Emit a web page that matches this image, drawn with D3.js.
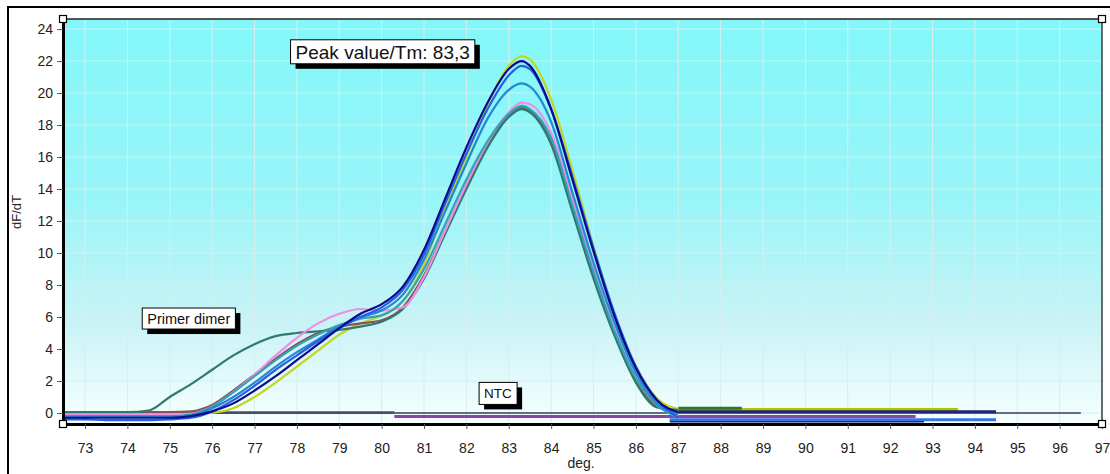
<!DOCTYPE html>
<html>
<head>
<meta charset="utf-8">
<script src="https://cdn.jsdelivr.net/npm/d3@7"></script>
<style>
  body { margin: 0; background: #fff; }
  svg { display: block; font-family: 'Liberation Sans', Arial, sans-serif; }
</style>
</head>
<body>
<svg width="1110" height="474"></svg>
<script>
// temperatures shared by the melt peaks
const temps = [72.5, 73, 73.5, 74, 74.5, 75, 75.5, 76, 76.5, 77, 77.5, 78, 78.5, 79, 79.5, 80, 80.5, 81, 81.5, 82, 82.5, 83, 83.3, 83.5, 84, 84.5, 85, 85.5, 86, 86.5, 87]

const yellow = [-0.05, -0.05, -0.05, -0.05, -0.05, -0.05, -0.05, 0.0, 0.3, 1.0, 1.9, 2.9, 3.9, 4.9, 5.6, 6.1, 7.0, 9.3, 12.8, 16.0, 19.3, 21.7, 22.3, 22.1, 19.6, 15.2, 10.4, 6.1, 2.9, 0.9, 0.25]
const brown = [0.05, 0.05, 0.05, 0.05, 0.05, 0.05, 0.1, 0.5, 1.4, 2.4, 3.4, 4.3, 5.0, 5.4, 5.6, 5.8, 6.6, 8.6, 11.4, 14.2, 16.8, 18.6, 19.1, 18.9, 16.9, 12.8, 8.6, 4.9, 2.0, 0.4, 0.0]
const darkTeal = [0.05, 0.05, 0.05, 0.05, 0.15, 1.0, 1.8, 2.7, 3.6, 4.3, 4.8, 5.0, 5.1, 5.2, 5.4, 5.7, 6.5, 8.4, 11.2, 14.0, 16.6, 18.5, 19.0, 18.8, 16.8, 12.6, 8.4, 4.8, 1.9, 0.35, 0.2]
const pink = [-0.1, -0.1, -0.1, -0.1, -0.1, -0.1, -0.05, 0.4, 1.3, 2.4, 3.6, 4.7, 5.6, 6.2, 6.5, 6.4, 6.6, 8.5, 11.4, 14.3, 16.9, 18.8, 19.4, 19.3, 17.5, 13.4, 9.0, 5.2, 2.2, 0.5, -0.2]
const teal = [-0.2, -0.2, -0.2, -0.2, -0.2, -0.2, -0.1, 0.4, 1.3, 2.3, 3.3, 4.2, 4.9, 5.5, 5.9, 6.1, 7.0, 9.0, 11.8, 14.6, 17.0, 18.7, 19.2, 19.0, 17.2, 13.0, 8.8, 5.1, 2.2, 0.5, -0.3]
const cerulean = [-0.25, -0.25, -0.25, -0.25, -0.25, -0.25, -0.15, 0.3, 1.0, 1.9, 2.9, 3.8, 4.6, 5.4, 6.0, 6.4, 7.4, 9.6, 12.6, 15.6, 18.4, 20.2, 20.6, 20.4, 18.2, 13.8, 9.4, 5.6, 2.5, 0.6, -0.1]
const royal = [-0.4, -0.4, -0.45, -0.45, -0.45, -0.4, -0.3, 0.1, 0.8, 1.7, 2.7, 3.6, 4.5, 5.3, 6.0, 6.6, 7.7, 9.9, 13.1, 16.2, 19.0, 21.1, 21.7, 21.5, 19.0, 14.8, 10.3, 6.2, 2.9, 0.8, -0.3]
const navy = [-0.3, -0.3, -0.3, -0.3, -0.3, -0.3, -0.2, 0.1, 0.6, 1.4, 2.3, 3.3, 4.3, 5.3, 6.2, 6.8, 7.9, 10.2, 13.4, 16.6, 19.4, 21.5, 22.0, 21.7, 19.0, 14.6, 10.1, 6.0, 2.8, 0.8, 0.05]

// flat traces (NTC and baselines after the peak)
const tailNames = ['ntcGray', 'ntcSlate', 'purple', 'navyLow', 'blueLow', 'yellowTail', 'greenTail', 'navyTail']
const tailFrom = [72.5, 72.5, 80.3, 86.8, 86.8, 87, 87, 87]
const tailTo = [80.3, 96.5, 92.6, 92.8, 94.5, 93.6, 88.5, 94.5]
const tailLevel = [0.03, 0.0, -0.22, -0.5, -0.42, 0.22, 0.3, 0.08]

const xTicks = d3.range(73, 98)
const yTicks = d3.range(0, 25, 2)

const peakNames = ['yellow', 'brown', 'darkTeal', 'pink', 'teal', 'cerulean', 'royal', 'navy']
const peakValues = [yellow, brown, darkTeal, pink, teal, cerulean, royal, navy]

const color = {
  yellow: '#c4d61c',
  brown: '#8c5252',
  darkTeal: '#2f7a70',
  pink: '#ee8ee4',
  teal: '#34a2b8',
  cerulean: '#1f8ad2',
  royal: '#2a5ce6',
  navy: '#0a0a8c',
  ntcGray: '#7a7a7a',
  ntcSlate: '#3c3c66',
  purple: '#8a44a8',
  navyLow: '#101080',
  blueLow: '#3a74e0',
  yellowTail: '#a8c800',
  greenTail: '#2a7a2a',
  navyTail: '#23237a'
}

const svg = d3.select('svg')
const plot = { left: 63, right: 1102, top: 19, bottom: 424 }

const x = d3.scaleLinear()
  .domain([72.48, 97])
  .range([plot.left, plot.right])

const y = d3.scaleLinear()
  .domain([-0.69, 24.63])
  .range([plot.bottom, plot.top])

// outer frame
svg.append('path')
  .attr('d', 'M8,474 V7 H1110')
  .attr('fill', 'none')
  .attr('stroke', '#000')
  .attr('stroke-width', 2)

const defs = svg.append('defs')
const grad = defs.append('linearGradient')
  .attr('id', 'bg')
  .attr('x1', 0).attr('y1', 0).attr('x2', 0).attr('y2', 1)
grad.append('stop').attr('offset', '0%').attr('stop-color', '#82f7f9')
grad.append('stop').attr('offset', '45%').attr('stop-color', '#99f5f8')
grad.append('stop').attr('offset', '75%').attr('stop-color', '#c9f3f6')
grad.append('stop').attr('offset', '100%').attr('stop-color', '#f6ffff')

defs.append('clipPath')
  .attr('id', 'clip')
  .append('rect')
  .attr('x', plot.left)
  .attr('y', plot.top)
  .attr('width', plot.right - plot.left)
  .attr('height', plot.bottom - plot.top)

svg.append('rect')
  .attr('x', plot.left)
  .attr('y', plot.top)
  .attr('width', plot.right - plot.left)
  .attr('height', plot.bottom - plot.top)
  .attr('fill', 'url(#bg)')

// grid
svg.append('g')
  .selectAll('line')
  .data(xTicks)
  .enter()
  .append('line')
  .attr('x1', function (d) { return x(d) })
  .attr('x2', function (d) { return x(d) })
  .attr('y1', plot.top)
  .attr('y2', plot.bottom)
  .attr('stroke', '#d6eeee')
  .attr('stroke-width', 1)

svg.append('g')
  .selectAll('line')
  .data(yTicks)
  .enter()
  .append('line')
  .attr('x1', plot.left)
  .attr('x2', plot.right)
  .attr('y1', function (d) { return y(d) })
  .attr('y2', function (d) { return y(d) })
  .attr('stroke', '#d6eeee')
  .attr('stroke-width', 1)

const lines = svg.append('g').attr('clip-path', 'url(#clip)')

lines.selectAll('.tail')
  .data(tailNames)
  .enter()
  .append('line')
  .attr('class', 'tail')
  .attr('x1', function (d, i) { return x(tailFrom[i]) })
  .attr('x2', function (d, i) { return x(tailTo[i]) })
  .attr('y1', function (d, i) { return y(tailLevel[i]) })
  .attr('y2', function (d, i) { return y(tailLevel[i]) })
  .attr('stroke', function (d) { return color[d] })
  .attr('stroke-width', function (d) { return d === 'ntcSlate' ? 1.5 : 3 })

const line = d3.line()
  .x(function (d) { return x(d.t) })
  .y(function (d) { return y(d.v) })
  .curve(d3.curveMonotoneX)

lines.selectAll('.peak')
  .data(peakNames)
  .enter()
  .append('path')
  .attr('class', 'peak')
  .attr('d', function (d, i) {
    return line(temps.map(function (t, j) { return { t: t, v: peakValues[i][j] } }))
  })
  .attr('fill', 'none')
  .attr('stroke', function (d) { return color[d] })
  .attr('stroke-width', 2.2)
  .attr('stroke-linejoin', 'round')

// plot border: thin top/right, thick axes
svg.append('path')
  .attr('d', 'M' + plot.left + ',' + plot.top + ' H' + plot.right + ' V' + plot.bottom)
  .attr('fill', 'none')
  .attr('stroke', '#222')
  .attr('stroke-width', 1.3)

const xAxis = d3.axisBottom(x).tickValues(xTicks).tickSize(5).tickSizeOuter(0).tickPadding(14)
const yAxis = d3.axisLeft(y).tickValues(yTicks).tickSize(6).tickSizeOuter(0).tickPadding(4)

const gx = svg.append('g')
  .attr('transform', 'translate(0,' + plot.bottom + ')')
  .call(xAxis)
gx.select('.domain').attr('stroke', '#000').attr('stroke-width', 3)

const gy = svg.append('g')
  .attr('transform', 'translate(' + plot.left + ',0)')
  .call(yAxis)
gy.select('.domain').attr('stroke', '#000').attr('stroke-width', 3)

svg.selectAll('.tick text')
  .attr('font-size', 14)
  .attr('font-family', "'Liberation Sans', Arial, sans-serif")
  .attr('fill', '#222')
svg.selectAll('.tick line').attr('stroke', '#555')

// corner handles
const corners = [[plot.left, plot.top], [plot.right, plot.top], [plot.left, plot.bottom], [plot.right, plot.bottom]]
svg.selectAll('.handle')
  .data(corners)
  .enter()
  .append('rect')
  .attr('class', 'handle')
  .attr('x', function (d) { return d[0] - 3.5 })
  .attr('y', function (d) { return d[1] - 3.5 })
  .attr('width', 7)
  .attr('height', 7)
  .attr('fill', '#fff')
  .attr('stroke', '#000')
  .attr('stroke-width', 1.2)

// axis titles
svg.append('text')
  .attr('transform', 'translate(21,212) rotate(-90)')
  .attr('text-anchor', 'middle')
  .attr('font-size', 13)
  .attr('fill', '#222')
  .text('dF/dT')

svg.append('text')
  .attr('x', 581)
  .attr('y', 468)
  .attr('text-anchor', 'middle')
  .attr('font-size', 14)
  .attr('fill', '#222')
  .text('deg.')

// annotation boxes, anchored in data units
const notes = [
  { text: 'Peak value/Tm: 83,3', t: 77.85, v: 23.33, size: 19, h: 24 },
  { text: 'Primer dimer', t: 74.35, v: 6.56, size: 14.5, h: 21 },
  { text: 'NTC', t: 82.3, v: 1.91, size: 13.5, h: 22 }
]

notes.forEach(function (n) {
  const g = svg.append('g').attr('transform', 'translate(' + x(n.t) + ',' + y(n.v) + ')')
  const shadow = g.append('rect').attr('fill', '#000')
  const box = g.append('rect').attr('fill', '#fff').attr('stroke', '#000').attr('stroke-width', 1)
  const label = g.append('text')
    .attr('x', 5)
    .attr('font-size', n.size)
    .attr('fill', '#111')
    .text(n.text)
  const bb = label.node().getBBox()
  const w = bb.width + 10
  label.attr('y', n.h / 2).attr('dy', '0.36em')
  box.attr('x', 0).attr('y', 0).attr('width', w).attr('height', n.h)
  shadow.attr('x', 5).attr('y', 5).attr('width', w).attr('height', n.h)
})
</script>
</body>
</html>
